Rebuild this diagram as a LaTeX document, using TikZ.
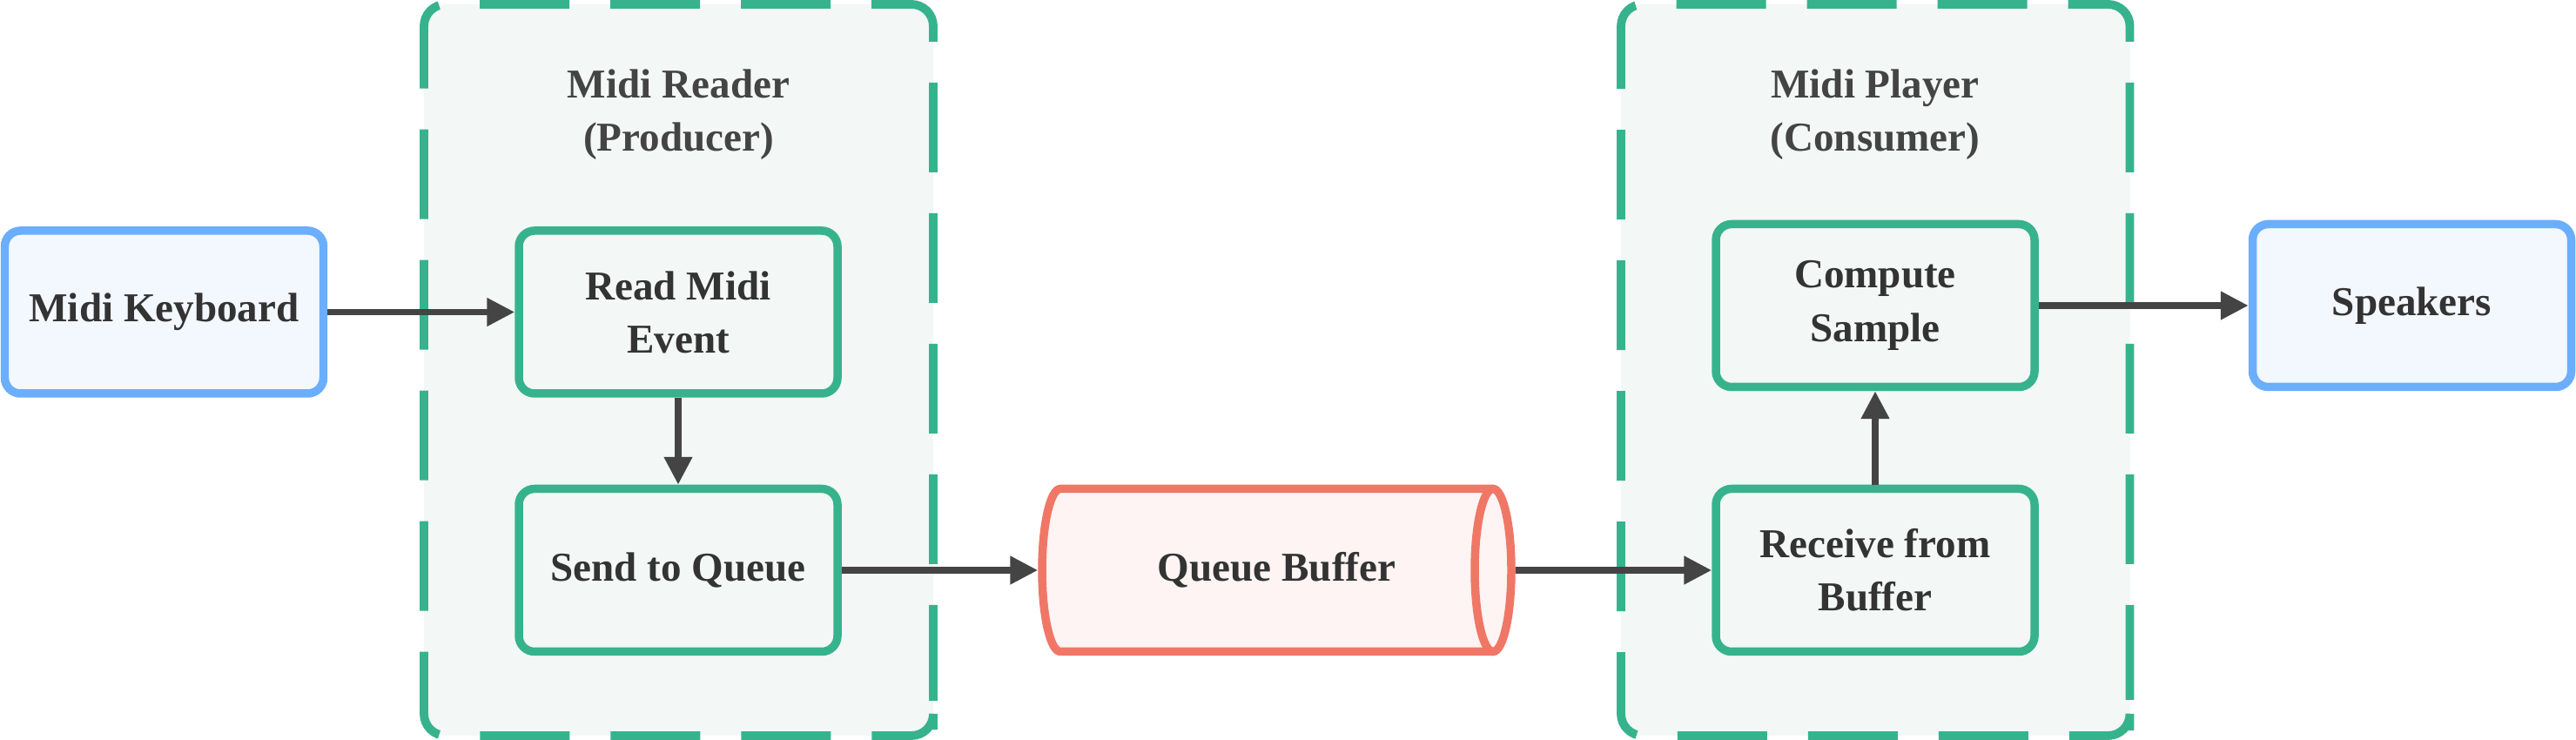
\documentclass[tikz,border=0pt]{standalone}
\usepackage{fontspec}
\setmainfont{Liberation Serif}
\usetikzlibrary{arrows.meta}
\definecolor{grn}{RGB}{54,179,141}
\definecolor{grpfill}{RGB}{243,247,245}
\definecolor{blu}{RGB}{107,174,253}
\definecolor{blufill}{RGB}{243,247,254}
\definecolor{redb}{RGB}{240,119,102}
\definecolor{redfill}{RGB}{253,244,243}
\definecolor{arr}{RGB}{68,68,68}
\definecolor{txt}{RGB}{51,51,51}
\definecolor{ttl}{RGB}{68,68,68}
\tikzset{
  basetext/.style={text=txt, font=\fontsize{13.4pt}{17.4pt}\selectfont\bfseries, align=center, inner sep=0pt},
  titletext/.style={basetext, text=ttl},
  grpbox/.style={draw=grn, fill=grpfill, line width=2.8pt, dash pattern=on 1.03cm off 0.47cm, dash phase=0.03cm, rounded corners=0.25cm},
  procbox/.style={basetext, draw=grn, fill=grpfill, line width=2.7pt, rounded corners=0.18cm, minimum width=3.66cm, minimum height=1.87cm},
  iobox/.style={basetext, draw=blu, fill=blufill, line width=2.7pt, rounded corners=0.18cm, minimum width=3.66cm, minimum height=1.87cm},
  cylline/.style={redb, line width=2.7pt},
  conn/.style={draw=arr, line width=2.2pt, -{Triangle[length=9.1pt,width=8.8pt]}},
}
\begin{document}
\begin{tikzpicture}
\useasboundingbox (0,0) rectangle (29.59,-8.5);
% groups
\draw[grpbox] (10.72,-8.20) -- (10.72,-0.05) -- (4.87,-0.05) -- (4.87,-8.45) -- (10.72,-8.45) -- cycle;
\draw[grpbox] (24.465,-8.20) -- (24.465,-0.05) -- (18.62,-0.05) -- (18.62,-8.45) -- (24.465,-8.45) -- cycle;
\node[titletext] (lt) at (7.795,-1.32) {Midi Reader\\(Producer)};
\node[titletext] (rt) at (21.54,-1.32) {Midi Player\\(Consumer)};
% boxes
\node[iobox] (kb) at (1.885,-3.585) {Midi Keyboard};
\node[procbox] (read) at (7.79,-3.585) {Read Midi\\Event};
\node[procbox] (send) at (7.79,-6.55) {Send to Queue};
\node[procbox] (comp) at (21.54,-3.51) {Compute\\Sample};
\node[procbox] (recv) at (21.54,-6.55) {Receive from\\Buffer};
\node[iobox] (spk) at (27.705,-3.51) {Speakers};
% cylinder
\fill[redfill] (12.18,-5.615) -- (17.15,-5.615) arc[start angle=90,end angle=-90,x radius=0.21cm,y radius=0.935cm] -- (12.18,-7.485) arc[start angle=270,end angle=90,x radius=0.21cm,y radius=0.935cm] -- cycle;
\draw[cylline, line join=round] (17.15,-5.615) -- (12.18,-5.615) arc[start angle=90,end angle=270,x radius=0.21cm,y radius=0.935cm] -- (17.15,-7.485);
\draw[cylline] (17.15,-6.55) ellipse[x radius=0.21cm, y radius=0.935cm];
\node[basetext, minimum width=5.39cm, minimum height=1.87cm, outer sep=1.35pt] (qb) at (14.665,-6.55) {Queue Buffer};
% connectors
\draw[conn] (kb) -- (read);
\draw[conn] (read) -- (send);
\draw[conn] (send.east) -- (qb.west);
\draw[conn] (qb.east) -- (recv.west);
\draw[conn] (recv) -- (comp);
\draw[conn] (comp) -- (spk);
\end{tikzpicture}
\end{document}
